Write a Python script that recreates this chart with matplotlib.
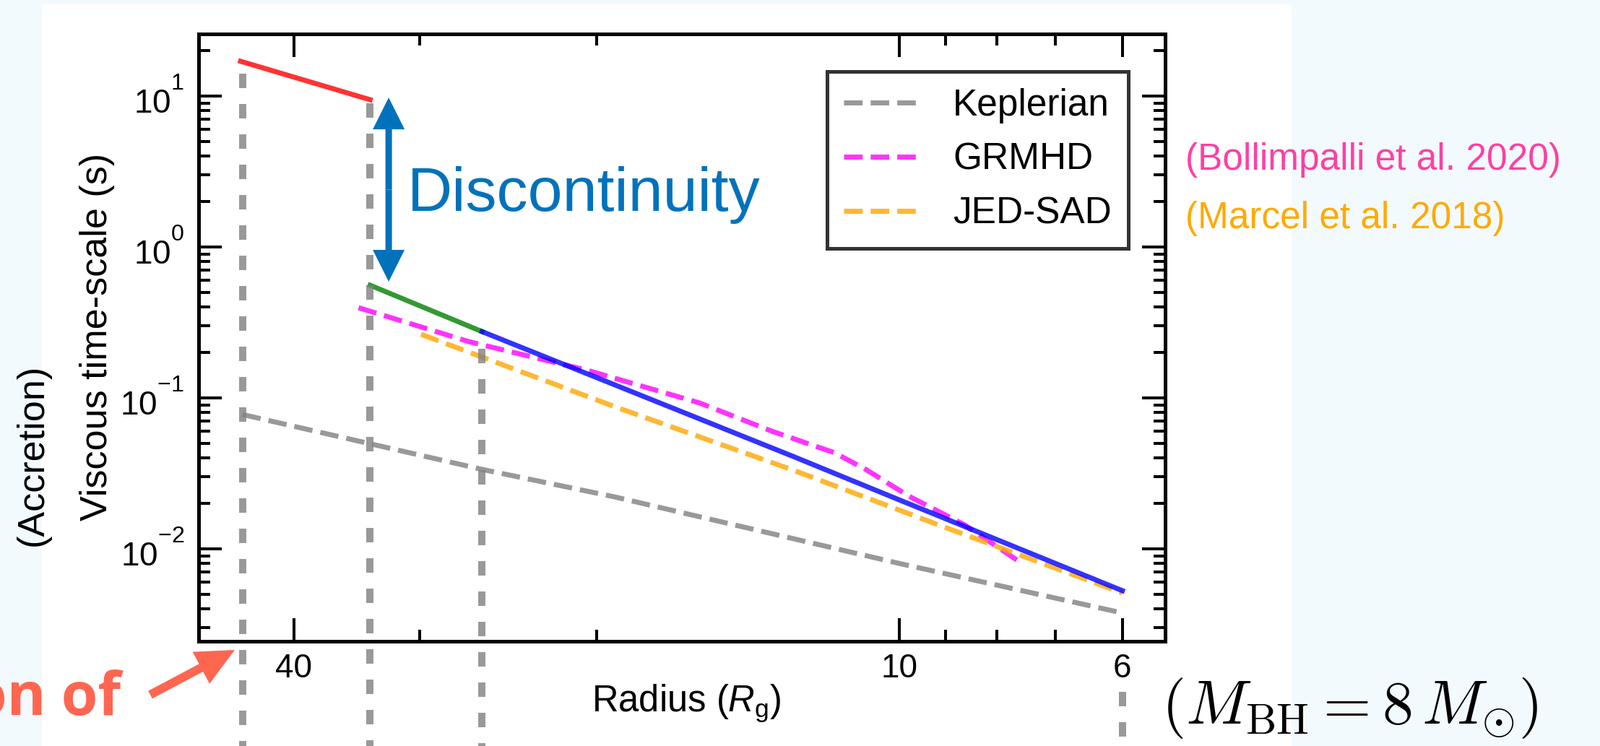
import matplotlib
matplotlib.use("Agg")
import matplotlib.pyplot as plt
from matplotlib.patches import Rectangle
from matplotlib.ticker import FixedLocator, FuncFormatter, NullFormatter, LogLocator
import numpy as np

try:  # raise superscripts of the tick exponents a little, as in the reference
    from matplotlib import _mathtext as _mt
    _mt.FontConstantsBase.sup1 = 1.3
except Exception:
    pass

# ---------------- data ----------------
r_kepler = [45, 26, 19.2, 10, 6]
t_kepler = [0.0776, 0.0336, 0.0221, 0.0080, 0.00376]

r_grmhd = [34.5, 26.8, 20.4, 15.8, 13.4, 11.6, 10.8, 9.78, 8.61, 7.55]
t_grmhd = [0.396, 0.236, 0.152, 0.0926, 0.0603, 0.0433, 0.0336, 0.0223, 0.0144, 0.0080]

r_jedsad = [29.9, 19.2, 12.7, 9.14, 6]
t_jedsad = [0.264, 0.0876, 0.0329, 0.0144, 0.0051]

r_red = [45.2, 33.6]
t_red = [17.0, 9.46]
r_green = [33.6, 26]
t_green = [0.558, 0.275]
r_blue = [26, 12.7, 10, 6]
t_blue = [0.275, 0.0405, 0.0211, 0.00528]

r_marks = [45, 33.6, 26, 6]
t_marks_top = [14.1, 8.96, 0.211, 0.00113]

xticks_major = [40, 10, 6]
xticks_minor = [30, 20, 9, 8, 7]
yticks_major = [1e-2, 1e-1, 1e0, 1e1]

legend_labels = ["Keplerian", "GRMHD", "JED-SAD"]

# ---------------- style ----------------
plt.rcParams["font.family"] = ["Liberation Sans", "DejaVu Sans"]
plt.rcParams["mathtext.fontset"] = "custom"
plt.rcParams["mathtext.rm"] = "Liberation Sans"
plt.rcParams["mathtext.it"] = "Liberation Sans:italic"
plt.rcParams["mathtext.bf"] = "Liberation Sans:bold"

W, H, DPI = 2215, 1033, 100
BG = "#f2fafe"
fig = plt.figure(figsize=(W / DPI, H / DPI), dpi=DPI, facecolor=BG)


def fx(px):
    return px / W


def fy(py):
    return 1 - py / H


# white slide panel
fig.add_artist(Rectangle((fx(58), 0), fx(1788) - fx(58), fy(6), transform=fig.transFigure,
                         facecolor="white", edgecolor="none", zorder=-10))

ax = fig.add_axes([fx(274.5), fy(888), fx(1613) - fx(274.5), fy(47) - fy(888)])

LW = 5
ax.plot(r_kepler, t_kepler, "--", color="gray", alpha=0.8, lw=LW, label=legend_labels[0])
ax.plot(r_grmhd, t_grmhd, "--", color="magenta", alpha=0.8, lw=LW, label=legend_labels[1])
ax.plot(r_jedsad, t_jedsad, "--", color="orange", alpha=0.8, lw=LW, label=legend_labels[2])
ax.plot(r_red, t_red, "-", color="red", alpha=0.8, lw=LW)
ax.plot(r_green, t_green, "-", color="green", alpha=0.8, lw=LW)
ax.plot(r_blue, t_blue, "-", color="blue", alpha=0.8, lw=LW)

for r, t in zip(r_marks, t_marks_top):
    ax.plot([r, r], [t, 1e-4], color="gray", alpha=0.8, lw=7.2, dashes=(2.0, 2.2),
            clip_on=False, zorder=4)

ax.set_xscale("log")
ax.set_yscale("log")
ax.set_xlim(49.8, 5.44)
ax.set_ylim(0.00244, 25.8)

ax.xaxis.set_major_locator(FixedLocator(xticks_major))
ax.xaxis.set_minor_locator(FixedLocator(xticks_minor))
ax.xaxis.set_major_formatter(FuncFormatter(lambda v, p: f"{v:g}"))
ax.xaxis.set_minor_formatter(NullFormatter())
ax.yaxis.set_major_locator(FixedLocator(yticks_major))
ax.yaxis.set_minor_locator(LogLocator(base=10, subs=np.arange(2, 10), numticks=100))
ax.yaxis.set_major_formatter(FuncFormatter(lambda v, p: r"$10^{%d}$" % round(np.log10(v))))
ax.yaxis.set_minor_formatter(NullFormatter())

ax.tick_params(which="both", direction="in", top=True, right=True, width=2.9, color="black")
ax.tick_params(which="major", length=23)
ax.tick_params(which="minor", length=11.5)
ax.tick_params(axis="x", which="major", pad=11.5, labelsize=33)
ax.tick_params(axis="y", which="major", pad=14, labelsize=33)
for s in ax.spines.values():
    s.set_linewidth(3.6)

ax.set_xlabel(r"Radius ($R_{\rm g}$)", fontsize=36.5, va="baseline")
ax.xaxis.set_label_coords(0.5047, (888 - 985) / 841)
ax.set_ylabel("Viscous time-scale (s)", fontsize=37.5, va="baseline")
ax.yaxis.set_label_coords((148 - 274.5) / 1338.5, (888 - 466) / 841)

leg = ax.legend(loc="upper right", bbox_to_anchor=(0.9619, 0.9382), borderaxespad=0,
                fontsize=37, handlelength=2.06, handletextpad=0.875, borderpad=0.45,
                labelspacing=0.5, fancybox=False, framealpha=1, edgecolor="#333333")
leg.get_frame().set_linewidth(3.6)

# discontinuity arrow
BLUE = "#0072BB"
arrow_r, arrow_top, arrow_bot, arrow_mid = 32.2, 9.78, 0.589, 2.40
for tip in (arrow_top, arrow_bot):
    ax.annotate("", xy=(arrow_r, tip), xytext=(arrow_r, arrow_mid),
                arrowprops=dict(width=6.5, headwidth=31.7, headlength=31.7, color=BLUE, lw=0, shrink=0))
fig.text(fx(564), fy(292), "Discontinuity", fontsize=62, color=BLUE, ha="left", va="baseline")

# references
fig.text(fx(1641), fy(235), "(Bollimpalli et al. 2020)", fontsize=37, color="#FF40A4",
         ha="left", va="baseline")
fig.text(fx(1641), fy(316), "(Marcel et al. 2018)", fontsize=37, color="#FFAA00",
         ha="left", va="baseline")

fig.text(fx(59), fy(630), "(Accretion)", rotation=90, fontsize=37.5, ha="center",
         va="baseline", rotation_mode="anchor")

fig.text(fx(1608), fy(1002), r"$(M_{\rm BH} = 8\,M_{\odot})$", fontsize=61.5, math_fontfamily="cm",
         ha="left", va="baseline", color="black")

CORAL = "#FF6650"
fig.text(fx(167), fy(990), "on of", fontsize=59, fontweight="bold", family="Open Sans",
         color=CORAL, ha="right", va="baseline")
ax.annotate("", xy=(fx(325), fy(900)), xycoords="figure fraction",
            xytext=(fx(208), fy(962)), textcoords="figure fraction",
            arrowprops=dict(width=8.6, headwidth=36, headlength=38, color=CORAL, lw=0, shrink=0))

fig.savefig("out.png", dpi=DPI, facecolor=fig.get_facecolor())
